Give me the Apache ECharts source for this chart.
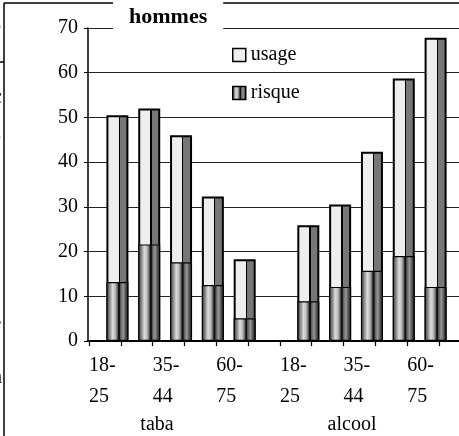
<!DOCTYPE html>
<html>
<head>
<meta charset="utf-8">
<script src="https://cdn.jsdelivr.net/npm/echarts@6/dist/echarts.min.js"></script>
<style>
  html, body { margin: 0; padding: 0; background: #fff; }
  #chart { width: 459px; height: 436px; }
</style>
</head>
<body>
<div id="chart"></div>
<script>
// Age bands for each product; the empty slot separates the two groups
const categories = ['18-25', '25-34', '35-44', '45-59', '60-75', '',
                    '18-25', '25-34', '35-44', '45-59', '60-75'];
const groupNames = ['taba', 'alcool'];
// Percentages of men: overall use and risky use
const usage  = [50.5, 52.0, 46.0, 32.3, 18.3, null, 25.9, 30.5, 42.3, 58.7, 67.8];
const risque = [13.2, 21.6, 17.6, 12.5, 5.1, null, 8.9, 12.1, 15.7, 19.0, 12.1];
const yTicks = { min: 0, max: 70, interval: 10 };

const SERIF = '"Liberation Serif", "DejaVu Serif", serif';
const G = echarts.graphic;

// flat front face + dark side face, like a shaded box
const usageFill = new G.LinearGradient(0, 0, 1, 0, [
  { offset: 0, color: '#eeeeee' }, { offset: 0.55, color: '#eeeeee' },
  { offset: 0.55, color: '#000' }, { offset: 0.61, color: '#000' },
  { offset: 0.61, color: '#777777' }, { offset: 1, color: '#777777' }
]);
// cylinder-like striped shading
const risqueFill = new G.LinearGradient(0, 0, 1, 0, [
  { offset: 0, color: '#3a3a3a' }, { offset: 0.12, color: '#777' },
  { offset: 0.28, color: '#dcdcdc' }, { offset: 0.4, color: '#bbb' },
  { offset: 0.5, color: '#666' }, { offset: 0.55, color: '#111' },
  { offset: 0.6, color: '#111' }, { offset: 0.63, color: '#555' },
  { offset: 0.76, color: '#999' }, { offset: 0.9, color: '#444' },
  { offset: 1, color: '#222' }
]);

const TOP = 28, BOTTOM = 95, SLOTW = 350;
const hiddenY = (i) => ({ gridIndex: i, type: 'value', min: yTicks.min, max: yTicks.max, show: false });
const frag = (ch, left, top) => ({ type: 'text', z: -20, left, top, style: { text: ch, font: '20px ' + SERIF, fill: '#000' } });

const chart = echarts.init(document.getElementById('chart'), null, { renderer: 'canvas' });
chart.setOption({
  backgroundColor: '#fff',
  animation: false,
  title: {
    text: 'hommes',
    left: 113, top: 2,
    padding: [4, 16, 3, 16],
    backgroundColor: '#fff',
    textStyle: { fontFamily: SERIF, fontWeight: 'bold', fontSize: 22, color: '#000', lineHeight: 23 }
  },
  legend: {
    orient: 'vertical',
    left: 227, top: 40,
    icon: 'rect',
    itemWidth: 13, itemHeight: 13, itemGap: 18,
    textStyle: { fontFamily: SERIF, fontSize: 20, color: '#000', lineHeight: 20 },
    itemStyle: { borderColor: '#000', borderWidth: 1.5 },
    data: [
      { name: 'usage', itemStyle: { color: '#eeeeee' } },
      { name: 'risque' }
    ]
  },
  grid: [
    { left: 88, top: TOP, right: -40, bottom: BOTTOM },          // frame, value axis, gridlines
    { left: 101.5, top: TOP, width: SLOTW, bottom: BOTTOM },     // bars (depth offset)
    { left: 89, top: TOP, width: SLOTW, bottom: BOTTOM },        // category ticks
    { left: 89 - SLOTW / 22, top: TOP, width: SLOTW, bottom: BOTTOM } // category labels
  ],
  xAxis: [
    { gridIndex: 0, type: 'value', min: 0, max: 1,
      axisLine: { show: true, lineStyle: { color: '#000', width: 2 } },
      axisTick: { show: false }, axisLabel: { show: false }, splitLine: { show: false } },
    { gridIndex: 1, type: 'category', data: categories, show: false },
    { gridIndex: 2, type: 'category', data: categories,
      axisLine: { show: false },
      axisTick: { show: true, interval: 0, length: 5, lineStyle: { color: '#000', width: 1.2 } },
      axisLabel: { show: false } },
    { gridIndex: 3, type: 'category', data: categories,
      axisLine: { show: false }, axisTick: { show: false },
      axisLabel: {
        interval: 1, align: 'left', margin: 9,
        fontFamily: SERIF, fontSize: 20, color: '#000', lineHeight: 31,
        formatter: (v) => v.replace('-', '-\n')
      } }
  ],
  yAxis: [
    { gridIndex: 0, type: 'value', min: yTicks.min, max: yTicks.max, interval: yTicks.interval,
      axisLine: { show: true, lineStyle: { color: '#000', width: 1.5 } },
      axisTick: { show: true, length: 4, lineStyle: { color: '#000' } },
      axisLabel: { margin: 10, fontFamily: SERIF, fontSize: 20, color: '#000' },
      splitLine: { show: true, lineStyle: { color: '#222', width: 1.2 } } },
    hiddenY(1), hiddenY(2), hiddenY(3)
  ],
  series: [
    { name: 'usage', type: 'bar', xAxisIndex: 1, yAxisIndex: 1,
      data: usage, barWidth: 22, barGap: '-100%',
      itemStyle: { color: usageFill, borderColor: '#000', borderWidth: 2 } },
    { name: 'risque', type: 'bar', xAxisIndex: 1, yAxisIndex: 1,
      data: risque, barWidth: 22, barGap: '-100%',
      itemStyle: { color: risqueFill, borderColor: '#000', borderWidth: 1.2 } }
  ],
  graphic: [
    // page text running behind the chart frame
    frag('z', -8, 14), frag('c', -7, 88), frag('e', -8, 128), frag('l', -6, 238),
    frag('t', -6, 276), frag('r', -6, 316), frag('h', -8, 368),
    { type: 'line', z: -20, shape: { x1: 0, y1: 62, x2: 4, y2: 62 }, style: { stroke: '#000', lineWidth: 1.5 } },
    { type: 'rect', z: -10, shape: { x: 4.5, y: 3.5, width: 460, height: 440 }, style: { fill: '#fff' } },
    // chart frame
    { type: 'line', z: -5, shape: { x1: 4, y1: 3, x2: 4, y2: 436 }, style: { stroke: '#000', lineWidth: 1.5 } },
    { type: 'line', z: -5, shape: { x1: 4, y1: 3, x2: 459, y2: 3 }, style: { stroke: '#000', lineWidth: 1.5 } },
    // group names under the age bands
    { type: 'text', z: 5, x: 157, y: 425, style: { text: groupNames[0], font: '20px ' + SERIF, fill: '#000', textAlign: 'center', textVerticalAlign: 'middle' } },
    { type: 'text', z: 5, x: 352, y: 425, style: { text: groupNames[1], font: '20px ' + SERIF, fill: '#000', textAlign: 'center', textVerticalAlign: 'middle' } }
  ]
});
</script>
</body>
</html>
